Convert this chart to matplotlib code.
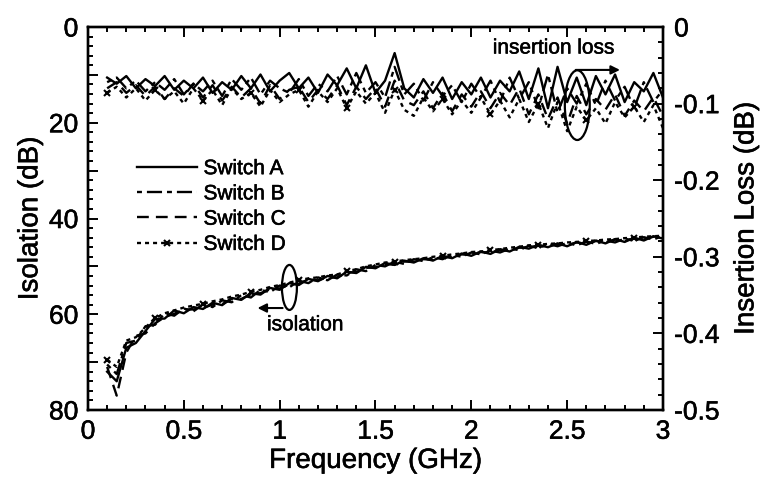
import matplotlib
matplotlib.use("Agg")
import matplotlib.pyplot as plt
import matplotlib.patheffects as pe
from matplotlib.patches import Ellipse
from matplotlib.text import Text
from matplotlib.ticker import MultipleLocator, FuncFormatter
import numpy as np

plt.rcParams['font.family'] = ['Liberation Sans', 'DejaVu Sans']

# measurement grid (GHz)
freq = np.round(np.arange(0.10, 3.001, 0.05), 2)

# isolation (dB)
iso_a = [72.0, 74.0, 67.0, 66.0, 63.5, 61.0, 60.9, 59.2, 59.8, 58.5,
         58.9, 57.6, 58.1, 56.6, 57.0, 55.6, 55.9, 54.5, 54.9, 53.5,
         53.9, 52.6, 53.1, 52.0, 52.5, 51.1, 51.4, 50.1, 50.4, 49.3,
         49.7, 48.8, 49.2, 48.3, 48.8, 47.8, 48.3, 47.3, 47.8, 46.9,
         47.4, 46.4, 46.9, 45.9, 46.3, 45.5, 46.0, 45.2, 45.8, 44.9,
         45.5, 44.6, 45.2, 44.3, 44.9, 44.0, 44.6, 43.7, 44.2]
iso_b = [70.5, 72.5, 66.0, 65.5, 62.5, 62.2, 59.8, 60.3, 58.8, 59.4,
         57.9, 58.5, 57.1, 57.5, 56.0, 56.5, 54.9, 55.4, 54.0, 54.4,
         53.0, 53.5, 52.3, 52.9, 51.7, 51.9, 50.6, 51.0, 49.7, 50.0,
         49.0, 49.5, 48.5, 48.9, 48.1, 48.5, 47.6, 48.0, 47.1, 47.5,
         46.7, 47.1, 46.3, 46.6, 45.7, 46.2, 45.3, 45.8, 45.1, 45.6,
         44.8, 45.3, 44.6, 45.0, 44.2, 44.7, 43.9, 44.4, 43.6]
iso_c = [71.0, 77.0, 68.0, 64.5, 64.0, 61.9, 60.6, 59.9, 59.0, 59.0,
         58.7, 58.0, 57.9, 56.8, 56.8, 55.8, 55.6, 54.8, 54.6, 53.8,
         53.6, 52.8, 52.9, 52.3, 52.3, 51.3, 51.2, 50.3, 50.2, 49.5,
         49.6, 49.0, 49.0, 48.5, 48.6, 48.0, 48.1, 47.5, 47.6, 47.0,
         47.2, 46.6, 46.7, 46.1, 46.1, 45.7, 45.8, 45.3, 45.6, 45.0,
         45.3, 44.7, 45.0, 44.4, 44.7, 44.1, 44.4, 43.8, 44.0]
iso_d = [69.5, 71.0, 65.5, 64.8, 62.8, 60.8, 59.8, 59.2, 58.6, 58.2,
         57.8, 57.3, 56.9, 56.3, 55.9, 55.3, 54.9, 54.3, 53.9, 53.4,
         52.9, 52.5, 52.3, 51.9, 51.7, 51.0, 50.6, 50.0, 49.6, 49.2,
         49.0, 48.7, 48.5, 48.3, 48.0, 47.8, 47.5, 47.3, 47.0, 46.9,
         46.6, 46.4, 46.1, 45.9, 45.6, 45.5, 45.3, 45.2, 45.0, 44.9,
         44.7, 44.6, 44.4, 44.3, 44.1, 44.0, 43.8, 43.7, 43.6]

# insertion loss (dB)
il_a = [-0.066, -0.074, -0.064, -0.080, -0.068, -0.077, -0.064, -0.082, -0.070, -0.080,
        -0.066, -0.086, -0.072, -0.082, -0.064, -0.080, -0.062, -0.084, -0.070, -0.060,
        -0.080, -0.066, -0.086, -0.062, -0.076, -0.054, -0.080, -0.050, -0.086, -0.070,
        -0.034, -0.080, -0.092, -0.068, -0.086, -0.066, -0.094, -0.072, -0.088, -0.066,
        -0.092, -0.070, -0.084, -0.058, -0.094, -0.054, -0.106, -0.052, -0.098, -0.066,
        -0.102, -0.064, -0.088, -0.062, -0.098, -0.072, -0.084, -0.060, -0.092]
il_b = [-0.072, -0.066, -0.080, -0.070, -0.084, -0.072, -0.082, -0.068, -0.088, -0.074,
        -0.084, -0.070, -0.090, -0.068, -0.082, -0.066, -0.088, -0.070, -0.080, -0.086,
        -0.068, -0.090, -0.074, -0.084, -0.064, -0.088, -0.060, -0.086, -0.072, -0.092,
        -0.052, -0.088, -0.074, -0.096, -0.072, -0.090, -0.076, -0.098, -0.074, -0.092,
        -0.070, -0.098, -0.066, -0.094, -0.072, -0.106, -0.062, -0.112, -0.080, -0.100,
        -0.074, -0.102, -0.070, -0.096, -0.078, -0.106, -0.072, -0.098, -0.082]
il_c = [-0.080, -0.072, -0.086, -0.076, -0.090, -0.078, -0.094, -0.080, -0.090, -0.074,
        -0.092, -0.076, -0.096, -0.078, -0.092, -0.080, -0.100, -0.076, -0.094, -0.082,
        -0.078, -0.098, -0.082, -0.094, -0.076, -0.102, -0.078, -0.094, -0.080, -0.104,
        -0.070, -0.096, -0.102, -0.084, -0.106, -0.086, -0.110, -0.088, -0.104, -0.084,
        -0.106, -0.086, -0.102, -0.080, -0.114, -0.088, -0.120, -0.092, -0.126, -0.090,
        -0.114, -0.094, -0.108, -0.088, -0.116, -0.096, -0.110, -0.092, -0.116]
il_d = [-0.086, -0.078, -0.092, -0.080, -0.096, -0.082, -0.094, -0.084, -0.100, -0.080,
        -0.096, -0.082, -0.102, -0.080, -0.094, -0.086, -0.104, -0.082, -0.098, -0.088,
        -0.082, -0.104, -0.084, -0.098, -0.080, -0.106, -0.084, -0.100, -0.086, -0.112,
        -0.082, -0.108, -0.116, -0.092, -0.110, -0.094, -0.114, -0.096, -0.112, -0.092,
        -0.114, -0.096, -0.118, -0.094, -0.124, -0.100, -0.132, -0.098, -0.136, -0.104,
        -0.122, -0.106, -0.126, -0.098, -0.118, -0.104, -0.124, -0.102, -0.132]

names = ["Switch A", "Switch B", "Switch C", "Switch D"]
iso_all = [iso_a, iso_b, iso_c, iso_d]
il_all = [il_a, il_b, il_c, il_d]
styles = [
    dict(ls='-'),
    dict(ls=(0, (2.1, 2.1, 6.4, 2.1))),
    dict(ls=(0, (5, 3))),
    dict(ls=(0, (1.7, 1.7)), marker='x', markevery=5, ms=5, mew=1.5),
]

fig = plt.figure(figsize=(7.63, 4.86), dpi=100)
ax = fig.add_axes([0.1153, 0.1564, 0.7536, 0.788])
ax2 = ax.twinx()

for i in range(0, len(names)):
    ax.plot(freq, iso_all[i], color='k', lw=1.7, label=names[i], **styles[i])
    ax2.plot(freq, il_all[i], color='k', lw=1.7, **styles[i])

ax.set_xlim(0, 3)
ax.set_ylim(80, 0)
ax2.set_ylim(-0.5, 0)

fmt = FuncFormatter(lambda v, p: "0" if abs(v) < 1e-9 else f"{v:g}")
ax.xaxis.set_major_locator(MultipleLocator(0.5))
ax.xaxis.set_minor_locator(MultipleLocator(0.1))
ax.xaxis.set_major_formatter(fmt)
ax.yaxis.set_major_locator(MultipleLocator(10))
ax.yaxis.set_minor_locator(MultipleLocator(2))
ax.yaxis.set_major_formatter(FuncFormatter(lambda v, p: f"{v:.0f}" if round(v) % 20 == 0 else ""))
ax2.yaxis.set_major_locator(MultipleLocator(0.1))
ax2.yaxis.set_minor_locator(MultipleLocator(0.02))
ax2.yaxis.set_major_formatter(fmt)

ax.tick_params(which='both', direction='in', top=True, right=False, width=1.4)
ax.tick_params(which='major', length=7, labelsize=19, pad=7)
ax.tick_params(which='minor', length=3.5)
ax2.tick_params(which='both', direction='in', width=1.4)
ax2.tick_params(which='major', length=7, labelsize=19, pad=8)
ax2.tick_params(which='minor', length=3.5)
for a in (ax, ax2):
    for s in a.spines.values():
        s.set_linewidth(1.7)

ax.set_xlabel('Frequency (GHz)', fontsize=20, labelpad=3)
ax.set_ylabel('Isolation (dB)', fontsize=20)
ax2.set_ylabel('Insertion Loss (dB)', fontsize=20, labelpad=10)

# annotations
ax2.add_patch(Ellipse((2.553, -0.102), 0.13, 0.091, fill=False, lw=1.6, color='k'))
ax2.annotate('', xy=(2.79, -0.056), xytext=(2.53, -0.056),
             arrowprops=dict(arrowstyle='-|>', lw=1.5, color='k', mutation_scale=13))
ax2.text(2.43, -0.0274, 'insertion loss', ha='center', va='center', fontsize=15)

ax.add_patch(Ellipse((1.051, 54.4), 0.078, 9.4, fill=False, lw=1.6, color='k'))
ax.annotate('', xy=(0.87, 58.7), xytext=(1.03, 58.7),
            arrowprops=dict(arrowstyle='-|>', lw=1.5, color='k', mutation_scale=13))
ax.text(0.934, 62.2, 'isolation', ha='left', va='center', fontsize=15)

handles, labels = ax.get_legend_handles_labels()
ax2.legend(handles, labels, loc='upper left', bbox_to_anchor=(0.085, 0.655),
           frameon=False, fontsize=15, handlelength=2.9, handletextpad=0.3,
           labelspacing=0.3, borderpad=0, borderaxespad=0, numpoints=1)

# scanned originals have slightly heavier type
fig.canvas.draw()
for t in fig.findobj(Text):
    t.set_path_effects([pe.withStroke(linewidth=0.4, foreground='k')])

fig.savefig('out.png', dpi=100)
